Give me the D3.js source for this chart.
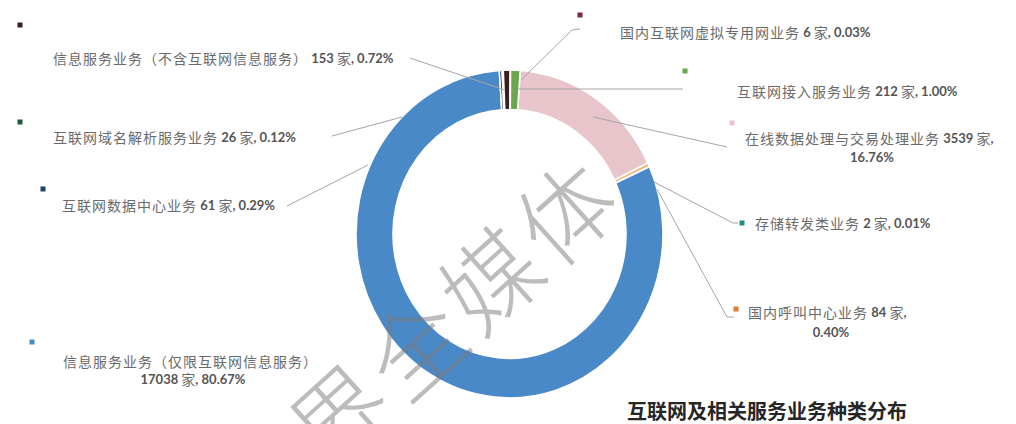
<!DOCTYPE html>
<html>
<head>
<meta charset="utf-8">
<script src="https://cdn.jsdelivr.net/npm/d3@7"></script>
<style>
  html, body { margin: 0; padding: 0; background: #fff; }
  svg { display: block; }
</style>
</head>
<body>
<svg id="chart" width="1016" height="424"></svg>
<script>
// ---------------- data ----------------
const categories = [
  "在线数据处理与交易处理业务",
  "国内呼叫中心业务",
  "存储转发类业务",
  "信息服务业务（仅限互联网信息服务）",
  "互联网数据中心业务",
  "互联网域名解析服务业务",
  "信息服务业务（不含互联网信息服务）",
  "国内互联网虚拟专用网业务",
  "互联网接入服务业务"
];
const counts = [3539, 84, 2, 17038, 61, 26, 153, 6, 212];
const percents = ["16.76%", "0.40%", "0.01%", "80.67%", "0.29%", "0.12%", "0.72%", "0.03%", "1.00%"];
const sliceColors = ["#e7c5ca", "#f2b47a", "#1f8b86", "#4a89c8", "#1f3f74", "#1e5a3a", "#3d1c1c", "#7b2a45", "#6aa64a"];
const keyColors   = ["#e7c5ca", "#e07b2a", "#1f8b86", "#4a89c8", "#1f3f74", "#1e5a3a", "#3d1c1c", "#7b2a45", "#6aa64a"];
const titleText = "互联网及相关服务业务种类分布";
const watermark = "界全媒体";

// ---------------- layout (annotation positions) ----------------
// label: [keyX, keyY, textX, textY(line1), line2X(center) , line2Y], leader polyline
const labelLayout = [
  {key:[732,123], x:745, y:138, x2:872, y2:157, split:true,  leader:[[593,117],[727,147]]},
  {key:[736,309], x:748, y:312, x2:831, y2:332, split:true,  leader:[[657,189],[727,317],[734,317]]},
  {key:[742,223], x:755, y:223, split:false, leader:[[654,182],[733,223],[738,223]]},
  {key:[32,342],  x:63,  y:361, x2:193, y2:379, split:true,  leader:null},
  {key:[43,189],  x:62,  y:205, split:false, leader:[[287,206],[368,165]]},
  {key:[20,122],  x:53,  y:137, split:false, leader:[[332,136],[402,117]]},
  {key:[20,25],   x:53,  y:58,  split:false, leader:[[410,58],[505,90]]},
  {key:[580,15],  x:620, y:32,  split:false, leader:[[580,29],[572,30],[521,80]]},
  {key:[685,71],  x:737, y:91,  split:false, leader:[[683,89],[518,89]]}
];

const svg = d3.select("#chart");
const cx = 509.5, cy = 234, rOuter = 153.5, rInner = 116.5, yStretch = 1.068;

const data = categories.map((c, i) => ({name: c, value: counts[i], pct: percents[i], i}));

const pie = d3.pie().sort(null).value(d => d.value)
  .startAngle(4 * Math.PI / 180)
  .endAngle(2 * Math.PI + 4 * Math.PI / 180);
const arc = d3.arc().innerRadius(rInner).outerRadius(rOuter);

const ring = svg.append("g")
  .attr("transform", `translate(${cx},${cy}) scale(1,${yStretch})`);
ring.selectAll("path").data(pie(data)).join("path")
  .attr("d", arc)
  .attr("fill", d => sliceColors[d.data.i])
  .attr("stroke", "#fff")
  .attr("stroke-width", 1.6)
  .attr("vector-effect", "non-scaling-stroke");

// leader lines
const line = d3.line();
svg.append("g").selectAll("path")
  .data(labelLayout.filter(l => l.leader))
  .join("path")
  .attr("d", l => line(l.leader))
  .attr("fill", "none")
  .attr("stroke", "#a6a6a6")
  .attr("stroke-width", 1);

// labels
const cjk = "'Noto Sans CJK SC', sans-serif";
const lat = "Lato, 'Open Sans', sans-serif";
const lg = svg.append("g");
data.forEach((d, i) => {
  const L = labelLayout[i];
  lg.append("rect")
    .attr("x", L.key[0] - 2.5).attr("y", L.key[1] - 2.5)
    .attr("width", 5).attr("height", 5)
    .attr("fill", keyColors[i]);
  const t1 = lg.append("text").attr("x", L.x).attr("y", L.y)
    .attr("dominant-baseline", "central");
  t1.append("tspan").text(d.name)
    .attr("font-family", cjk).attr("font-size", 14).attr("letter-spacing", 1)
    .attr("fill", "#6a6a6a");
  const numPart = (tsp, txt) => tsp.append("tspan").text(txt)
    .attr("font-family", lat).attr("font-size", 13).attr("font-weight", 700).attr("fill", "#555");
  const jia = (tsp) => tsp.append("tspan").text(" 家")
    .attr("font-family", cjk).attr("font-size", 14).attr("fill", "#6a6a6a");
  if (L.split) {
    if (i === 3) {
      const t2 = lg.append("text").attr("x", L.x2).attr("y", L.y2)
        .attr("dominant-baseline", "central").attr("text-anchor", "middle");
      numPart(t2, String(d.value)); jia(t2); numPart(t2, ", " + d.pct);
    } else {
      numPart(t1, " " + d.value); jia(t1); numPart(t1, ",");
      const t2 = lg.append("text").attr("x", L.x2).attr("y", L.y2)
        .attr("dominant-baseline", "central").attr("text-anchor", "middle");
      numPart(t2, d.pct);
    }
  } else {
    numPart(t1, " " + d.value); jia(t1); numPart(t1, ", " + d.pct);
  }
});

// title
svg.append("text")
  .attr("x", 627).attr("y", 410)
  .attr("dominant-baseline", "central")
  .attr("font-family", cjk).attr("font-size", 20).attr("font-weight", 700)
  .attr("fill", "#262626")
  .text(titleText);

// watermark
svg.append("text")
  .attr("transform", `translate(452,308) rotate(-42)`)
  .attr("text-anchor", "middle")
  .attr("dominant-baseline", "central")
  .attr("font-family", cjk).attr("font-size", 95).attr("font-weight", 200)
  .attr("letter-spacing", 6)
  .attr("fill", "#7a7a7a").attr("fill-opacity", 0.5)
  .text(watermark);
</script>
</body>
</html>
